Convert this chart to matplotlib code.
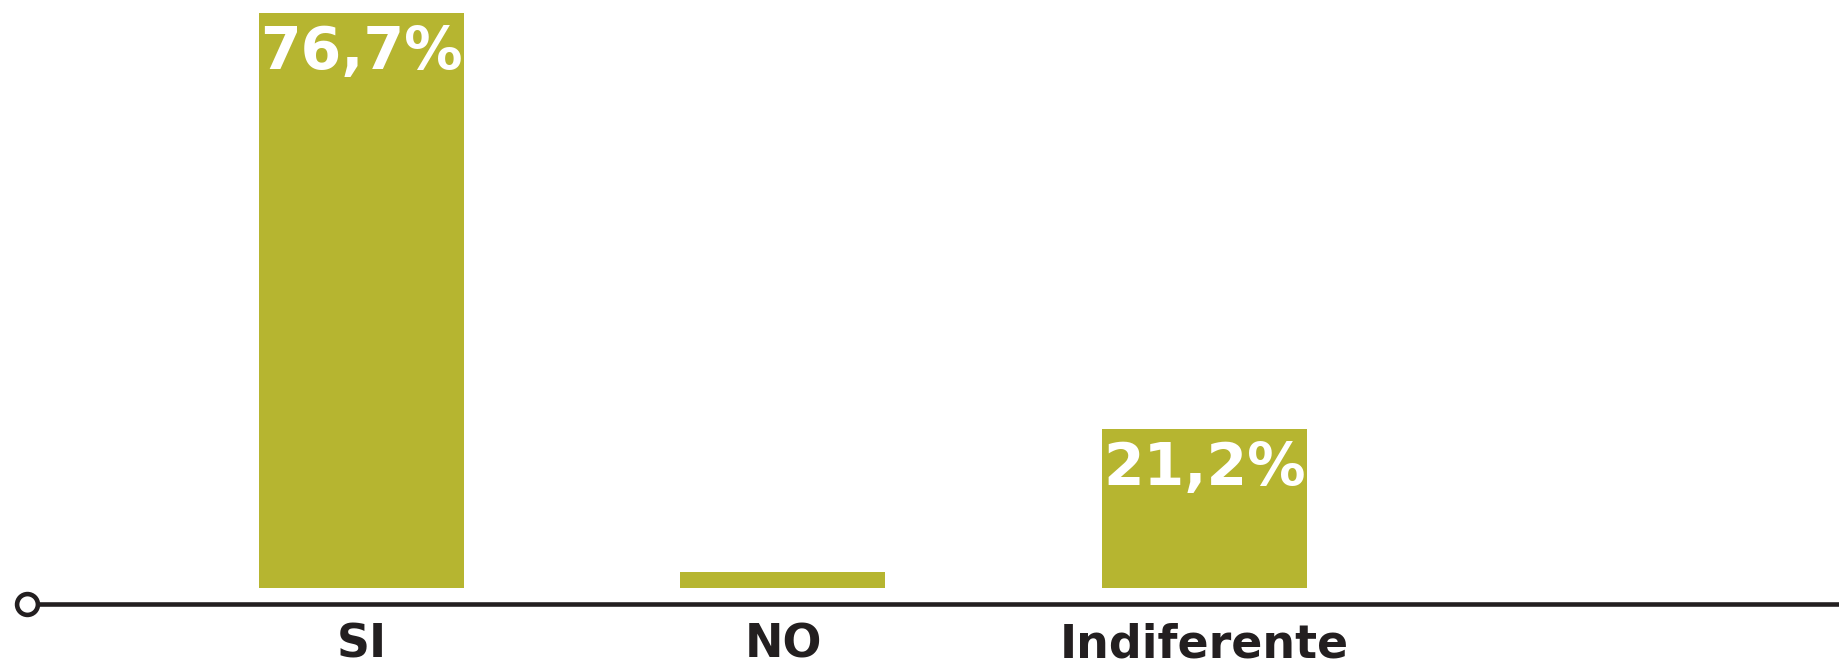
import matplotlib
matplotlib.use("Agg")
import matplotlib.pyplot as plt
from matplotlib.transforms import blended_transform_factory, offset_copy

categories = ["SI", "NO", "Indiferente"]
values = [76.7, 2.1, 21.2]
value_labels = ["76,7%", None, "21,2%"]

BAR_COLOR = "#b6b530"
AXIS_COLOR = "#231f20"

W, H, DPI = 1840, 665, 100
fig = plt.figure(figsize=(W / DPI, H / DPI), dpi=DPI)

ax_left_px = 27
ax_bottom_px = H - 603.5
ax = fig.add_axes([ax_left_px / W, ax_bottom_px / H, 1 - ax_left_px / W, 1 - ax_bottom_px / H])

pitch = 421.5
first_center = 361.5
x = list(range(len(categories)))
ax.bar(x, values, width=205 / pitch, color=BAR_COLOR, zorder=2)

ax.set_xlim((ax_left_px - first_center) / pitch, (W - first_center) / pitch)
px_per_unit = 574.7 / 76.7
ybot = -16 / px_per_unit
ax.set_ylim(ybot, ybot + 603.5 / px_per_unit)

for s in ["top", "left", "right"]:
    ax.spines[s].set_visible(False)
ax.spines["bottom"].set_color(AXIS_COLOR)
ax.spines["bottom"].set_linewidth(3.3)
ax.set_xticks([])
ax.set_yticks([])

# circle at axis origin
ax.plot([0], [0], marker="o", markersize=15, markerfacecolor="white",
        markeredgecolor=AXIS_COLOR, markeredgewidth=3.3,
        transform=ax.transAxes, clip_on=False, zorder=5)

# category labels
trans = blended_transform_factory(ax.transData, fig.transFigure)
for xi, cat in zip(x, categories):
    ax.text(xi, 7 / H, cat, transform=trans, ha="center", va="baseline",
            fontsize=33, fontweight="bold", color=AXIS_COLOR,
            family="DejaVu Sans")

# value labels inside bars
for xi, v, lab in zip(x, values, value_labels):
    if lab is None:
        continue
    t = offset_copy(ax.transData, fig=fig, x=0, y=-56 * 72 / DPI, units="points")
    ax.text(xi, v, lab, transform=t, ha="center", va="baseline",
            fontsize=42, fontweight="bold", color="white",
            family="DejaVu Sans", zorder=3)

fig.savefig("out.png", dpi=DPI, facecolor="white")
